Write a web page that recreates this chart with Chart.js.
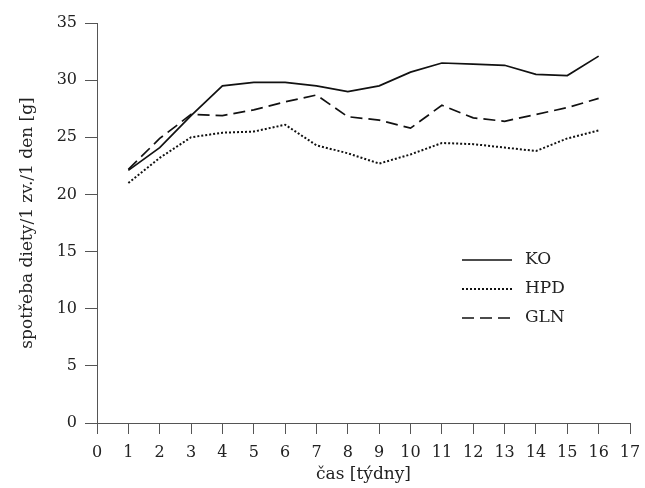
<!DOCTYPE html>
<html>
<head>
<meta charset="utf-8">
<script src="https://cdn.jsdelivr.net/npm/chart.js@4/dist/chart.umd.min.js"></script>
<style>
  html, body { margin: 0; padding: 0; background: #fff; }
  #wrap { width: 645px; height: 488px; position: relative; }
</style>
</head>
<body>
<div id="wrap"><canvas id="c"></canvas></div>
<script>
// ── data ─────────────────────────────────────────────────────────────
var weeks = [1, 2, 3, 4, 5, 6, 7, 8, 9, 10, 11, 12, 13, 14, 15, 16];
var ko  = [22.1, 24.1, 26.9, 29.5, 29.8, 29.8, 29.5, 29.0, 29.5, 30.7, 31.5, 31.4, 31.3, 30.5, 30.4, 32.1];
var hpd = [21.0, 23.2, 25.0, 25.4, 25.5, 26.1, 24.3, 23.6, 22.7, 23.5, 24.5, 24.4, 24.1, 23.8, 24.9, 25.6];
var gln = [22.2, 24.9, 27.0, 26.9, 27.4, 28.1, 28.7, 26.8, 26.5, 25.8, 27.8, 26.7, 26.4, 27.0, 27.6, 28.4];
var seriesNames = ['KO', 'HPD', 'GLN'];
var yTitle = 'spotřeba diety/1 zv./1 den [g]';
var xTitle = 'čas [týdny]';

var FONT = '"DejaVu Serif", "Liberation Serif", serif';
var AXIS = '#555';

function pts(vals) {
  var out = [];
  for (var i = 0; i < weeks.length; i++) out.push({ x: weeks[i], y: vals[i] });
  return out;
}

// legend + axis titles drawn by hand so they sit where the original has them
var extras = {
  id: 'extras',
  afterDraw: function(chart) {
    var ctx = chart.ctx;
    var ds = chart.data.datasets;
    var area = chart.chartArea;
    ctx.save();
    ctx.fillStyle = '#222';
    ctx.font = '17px ' + FONT;
    ctx.textBaseline = 'middle';
    for (var i = 0; i < ds.length; i++) {
      var y = 260 + i * 29;
      ctx.beginPath();
      ctx.strokeStyle = '#111';
      ctx.lineWidth = ds[i].borderWidth;
      ctx.setLineDash(ds[i].borderDash || []);
      ctx.moveTo(462, y);
      ctx.lineTo(512, y);
      ctx.stroke();
      ctx.setLineDash([]);
      ctx.fillText(ds[i].label, 525, y);
    }
    ctx.textAlign = 'center';
    ctx.font = '17px ' + FONT;
    ctx.fillText(xTitle, (area.left + area.right) / 2, 475);
    ctx.translate(28, (area.top + area.bottom) / 2);
    ctx.rotate(-Math.PI / 2);
    ctx.fillText(yTitle, 0, 0);
    ctx.restore();
  }
};

function lineSet(label, vals, dash, width) {
  return {
    label: label,
    data: pts(vals),
    borderColor: '#111',
    borderWidth: width,
    borderDash: dash,
    pointRadius: 0,
    tension: 0,
    fill: false
  };
}

new Chart(document.getElementById('c'), {
  type: 'line',
  data: {
    datasets: [
      lineSet(seriesNames[0], ko, [], 1.7),
      lineSet(seriesNames[1], hpd, [2, 2], 2),
      lineSet(seriesNames[2], gln, [12, 6], 1.7)
    ]
  },
  options: {
    responsive: true,
    maintainAspectRatio: false,
    animation: false,
    layout: { padding: { left: 0, top: 23, right: 15, bottom: 0 } },
    plugins: {
      legend: { display: false },
      tooltip: { enabled: false }
    },
    scales: {
      x: {
        type: 'linear',
        min: 0,
        max: 17,
        afterFit: function(s) {
          s.height = 65;
          s.paddingRight = 0;
          s.paddingLeft = 0;
        },
        ticks: {
          stepSize: 1,
          color: '#222',
          font: { family: FONT, size: 16 },
          padding: 9
        },
        grid: {
          drawOnChartArea: false,
          drawTicks: true,
          tickLength: 11,
          color: AXIS
        },
        border: { color: AXIS, width: 1 }
      },
      y: {
        min: 0,
        max: 35,
        afterFit: function(s) { s.width = 97; },
        ticks: {
          stepSize: 5,
          color: '#222',
          font: { family: FONT, size: 16 },
          padding: 8
        },
        grid: {
          drawOnChartArea: false,
          drawTicks: true,
          tickLength: 12,
          color: AXIS
        },
        border: { color: AXIS, width: 1 }
      }
    }
  },
  plugins: [extras]
});
</script>
</body>
</html>
